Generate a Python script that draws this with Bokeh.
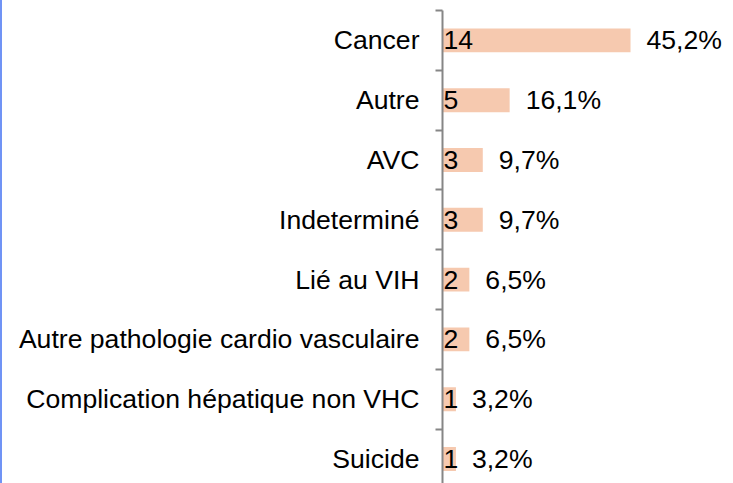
from bokeh.plotting import figure
from bokeh.models import Range1d, FixedTicker, ColumnDataSource
from bokeh.core.properties import value
from bokeh.embed import file_html
from bokeh.resources import INLINE

categories = ["Cancer", "Autre", "AVC", "Indeterminé", "Lié au VIH",
              "Autre pathologie cardio vasculaire",
              "Complication hépatique non VHC", "Suicide"]
counts = [14, 5, 3, 3, 2, 2, 1, 1]
percents = ["45,2%", "16,1%", "9,7%", "9,7%", "6,5%", "6,5%", "3,2%", "3,2%"]

FONT = "Liberation Sans"
FS = "26.6px"
band_px = 59.8
top_px = 10
H = 483
W = 731
left_px = 440
unit_px = 13.43

n = len(categories)
idx = list(range(n))
frame_h = H - top_px
y_bottom = -0.5 + frame_h / band_px
x_end = (W - left_px) / unit_px

src = ColumnDataSource(dict(y=idx, cnt=counts, cnt_txt=[str(c) for c in counts],
                            pct=percents, zero=[0] * n))

p = figure(width=W, height=H, output_backend="svg", toolbar_location=None,
           x_range=Range1d(0, x_end), y_range=Range1d(y_bottom, -0.5),
           x_axis_location=None, min_border_left=left_px, min_border_right=0,
           min_border_top=top_px, min_border_bottom=0,
           styles={"border-left": "2px solid #7093F5"})
p.outline_line_color = None
p.xgrid.visible = False
p.ygrid.visible = False
p.background_fill_color = "white"
p.border_fill_color = "white"

p.hbar(y="y", left=0, right="cnt", height=0.4, source=src,
       fill_color="#F6C9AF", line_color=None)

p.text(x="zero", y="y", text="cnt_txt", source=src, x_offset=1,
       text_align="left", text_baseline="middle", text_color="black",
       text_font=value(FONT), text_font_size=FS)
p.text(x="cnt", y="y", text="pct", source=src, x_offset=16,
       text_align="left", text_baseline="middle", text_color="black",
       text_font=value(FONT), text_font_size=FS)

ax = p.yaxis[0]
ax.ticker = FixedTicker(ticks=idx, minor_ticks=[i - 0.5 for i in range(n + 1)])
ax.major_label_overrides = {i: c for i, c in enumerate(categories)}
ax.major_tick_out = 0
ax.major_tick_in = 0
ax.minor_tick_out = 7
ax.minor_tick_in = 0
ax.axis_line_color = "#868686"
ax.axis_line_width = 2
ax.minor_tick_line_color = "#868686"
ax.minor_tick_line_width = 2
ax.major_label_standoff = 16
ax.major_label_text_font = FONT
ax.major_label_text_font_size = FS
ax.major_label_text_color = "black"

open("out.html", "w").write(file_html(p, INLINE))
